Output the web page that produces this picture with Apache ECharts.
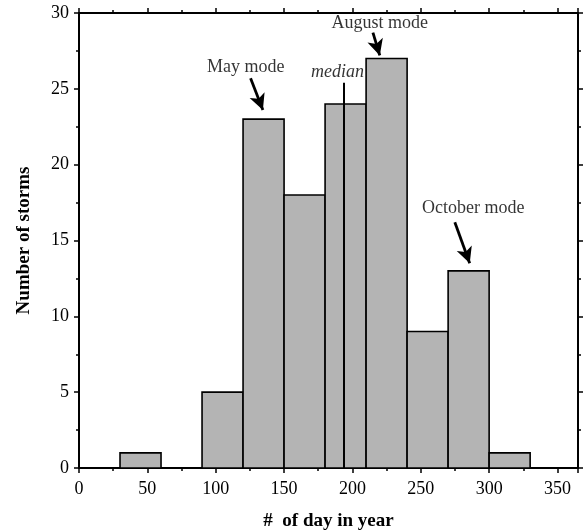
<!DOCTYPE html>
<html>
<head>
<meta charset="utf-8">
<script src="https://cdn.jsdelivr.net/npm/echarts@6/dist/echarts.min.js"></script>
<style>html,body{margin:0;padding:0;background:#fff}#c{width:587px;height:532px}</style>
</head>
<body>
<div id="c"></div>
<script>
// Histogram bins (day of year) and counts
var binStart = [30, 60, 90, 120, 150, 180, 210, 240, 270, 300];
var binEnd   = [60, 90, 120, 150, 180, 210, 240, 270, 300, 330];
var counts   = [1, 0, 5, 23, 18, 24, 27, 9, 13, 1];

var xTicks = [0, 50, 100, 150, 200, 250, 300, 350];
var yTicks = [0, 5, 10, 15, 20, 25, 30];

var medianDay = 194;
var medianTop = 25.4;

// Annotation labels [x, y, text]
var labelX    = [122, 220, 189, 288.4];
var labelY    = [26.4, 29.3, 26.1, 17.1];
var labelText = ['May mode', 'August mode', 'median', 'October mode'];

// Arrows: from (x0,y0) to (x1,y1)
var arrowX0 = [125.5, 215, 274.9];
var arrowY0 = [25.7, 28.7, 16.2];
var arrowX1 = [134.5, 220, 285.8];
var arrowY1 = [23.6, 27.2, 13.5];

var FONT = '"Liberation Serif", "Times New Roman", serif';

var histData = binStart.map(function (s, i) { return [s, binEnd[i], counts[i]]; });

var labelData = labelText.map(function (t, i) {
  var d = { value: [labelX[i], labelY[i]], name: t };
  if (t === 'median') d.label = { fontStyle: 'italic' };
  return d;
});

var arrowLines = arrowX0.map(function (x0, i) {
  return [{ coord: [x0, arrowY0[i]] }, { coord: [arrowX1[i], arrowY1[i]] }];
});
var medianLine = [[{ coord: [medianDay, 0], symbol: 'none' }, { coord: [medianDay, medianTop], symbol: 'none' }]];

var axisLineStyle = { color: '#000', width: 2 };
function xAxisBase(pos, showLabel) {
  return {
    type: 'value', position: pos, min: 0, max: 365, interval: 50,
    axisLine: { show: true, onZero: false, lineStyle: axisLineStyle },
    axisTick: { show: true, length: 5, lineStyle: { color: '#000', width: 1.5 } },
    minorTick: { show: true, splitNumber: 2, length: 3, lineStyle: { color: '#000', width: 1.5 } },
    splitLine: { show: false },
    axisLabel: { show: showLabel, color: '#000', fontFamily: FONT, fontSize: 18, margin: 12,
      showMaxLabel: false },
  };
}
function yAxisBase(pos, showLabel) {
  return {
    type: 'value', position: pos, min: 0, max: 30, interval: 5,
    axisLine: { show: true, onZero: false, lineStyle: axisLineStyle },
    axisTick: { show: true, length: 5, lineStyle: { color: '#000', width: 1.5 } },
    minorTick: { show: true, splitNumber: 2, length: 3, lineStyle: { color: '#000', width: 1.5 } },
    splitLine: { show: false },
    axisLabel: { show: showLabel, color: '#000', fontFamily: FONT, fontSize: 18, margin: 10 },
  };
}

var xb = xAxisBase('bottom', true);
xb.name = '#  of day in year';
xb.nameLocation = 'middle';
xb.nameGap = 44;
xb.nameTextStyle = { color: '#000', fontFamily: FONT, fontSize: 19, fontWeight: 'bold' };
xb.axisLabel.formatter = function (v) { return xTicks.indexOf(v) >= 0 ? String(v) : ''; };

var yl = yAxisBase('left', true);
yl.name = 'Number of storms';
yl.nameLocation = 'middle';
yl.nameGap = 45;
yl.nameTextStyle = { color: '#000', fontFamily: FONT, fontSize: 19, fontWeight: 'bold' };
yl.axisLabel.formatter = function (v) { return yTicks.indexOf(v) >= 0 ? String(v) : ''; };

var chart = echarts.init(document.getElementById('c'), null, { renderer: 'canvas' });
chart.setOption({
  animation: false,
  backgroundColor: '#fff',
  grid: { left: 79, right: 9, top: 13, bottom: 64, containLabel: false, outerBoundsMode: 'none' },
  xAxis: [xb, xAxisBase('top', false)],
  yAxis: [yl, yAxisBase('right', false)],
  series: [
    {
      type: 'custom', xAxisIndex: 0, yAxisIndex: 0,
      data: histData,
      renderItem: function (params, api) {
        var c = api.value(2);
        if (!c) return null;
        var p0 = api.coord([api.value(0), c]);
        var p1 = api.coord([api.value(1), 0]);
        return {
          type: 'rect',
          shape: { x: p0[0], y: p0[1], width: p1[0] - p0[0], height: p1[1] - p0[1] },
          style: { fill: '#b4b4b4', stroke: '#000', lineWidth: 1.6 }
        };
      },
      z: 2
    },
    {
      type: 'line', xAxisIndex: 0, yAxisIndex: 0, data: [], silent: true,
      markLine: {
        silent: true, animation: false,
        symbol: ['none', 'arrow'], symbolSize: [12, 16],
        lineStyle: { color: '#000', width: 2.8, type: 'solid' },
        label: { show: false },
        data: arrowLines
      },
      z: 5
    },
    {
      type: 'line', xAxisIndex: 0, yAxisIndex: 0, data: [], silent: true,
      markLine: {
        silent: true, animation: false,
        symbol: ['none', 'none'],
        lineStyle: { color: '#000', width: 2, type: 'solid' },
        label: { show: false },
        data: medianLine
      },
      z: 5
    },
    {
      type: 'scatter', xAxisIndex: 0, yAxisIndex: 0, symbolSize: 0, silent: true,
      data: labelData,
      label: {
        show: true, position: 'inside', color: '#000', fontFamily: FONT, fontSize: 18,
        formatter: function (p) { return p.name; }
      },
      z: 6
    }
  ]
});
</script>
</body>
</html>
